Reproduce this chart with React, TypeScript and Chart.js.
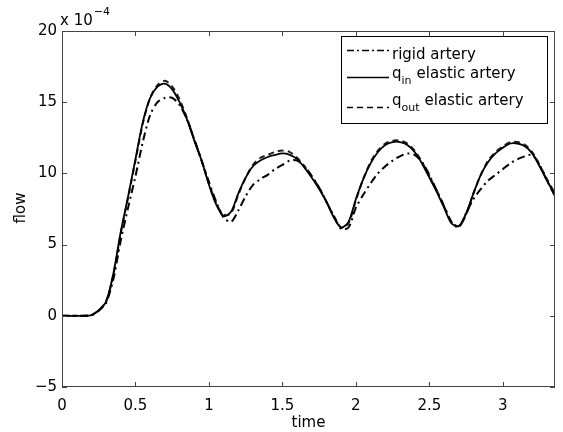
import React, { useEffect, useRef } from "react";
import { Chart, registerables } from "chart.js";

Chart.register(...registerables);

const TIME = [
  0, 0.05, 0.1, 0.15, 0.2, 0.25, 0.3, 0.35, 0.4, 0.45, 0.5, 0.55, 0.6, 0.65, 0.7, 0.75, 0.8, 0.85, 0.9, 0.95,
  1.0, 1.05, 1.1, 1.15, 1.2, 1.25, 1.3, 1.35, 1.4, 1.45, 1.5, 1.55, 1.6, 1.65, 1.7, 1.75, 1.8, 1.85, 1.9, 1.95,
  2.0, 2.05, 2.1, 2.15, 2.2, 2.25, 2.3, 2.35, 2.4, 2.45, 2.5, 2.55, 2.6, 2.65, 2.7, 2.75, 2.8, 2.85, 2.9, 2.95,
  3.0, 3.05, 3.1, 3.15, 3.2, 3.25, 3.3, 3.355,
];

const RIGID = [
  0, 0, 0, 0, 0.03, 0.35, 0.9, 2.6, 5.3, 7.6, 9.8, 12.2, 14.1, 15.0, 15.3, 15.3, 14.8, 13.8, 12.4, 10.9,
  9.4, 8.0, 6.9, 6.6, 7.4, 8.4, 9.2, 9.6, 9.9, 10.3, 10.6, 10.9, 10.9, 10.5, 9.8, 9.0, 8.0, 7.0, 6.1, 6.2,
  7.6, 8.5, 9.3, 10.0, 10.5, 10.9, 11.2, 11.4, 11.3, 10.8, 9.9, 8.8, 7.7, 6.6, 6.2, 7.2, 8.2, 8.9, 9.5, 9.9,
  10.3, 10.7, 11.0, 11.2, 11.3, 10.6, 9.5, 8.4,
];

const Q_IN = [
  0, 0, 0, 0, 0.05, 0.4, 1.0, 3.0, 5.9, 8.4, 11.0, 13.6, 15.3, 16.1, 16.3, 15.9, 15.0, 13.8, 12.3, 10.9,
  9.2, 7.8, 7.0, 7.3, 8.6, 9.7, 10.5, 10.9, 11.15, 11.3, 11.4, 11.3, 11.0, 10.4, 9.7, 8.9, 8.0, 6.9, 6.2, 6.6,
  8.2, 9.6, 10.7, 11.5, 12.0, 12.2, 12.2, 12.0, 11.5, 10.7, 9.7, 8.7, 7.6, 6.5, 6.3, 7.2, 8.6, 9.9, 10.8, 11.4,
  11.8, 12.1, 12.1, 11.9, 11.4, 10.5, 9.5, 8.5,
];

const Q_OUT = [
  0, 0, 0, 0, 0.04, 0.38, 1.0, 2.9, 5.8, 8.3, 10.9, 13.5, 15.3, 16.2, 16.5, 16.1, 15.2, 13.9, 12.4, 10.9,
  9.3, 7.9, 7.1, 7.2, 8.5, 9.7, 10.6, 11.1, 11.3, 11.5, 11.6, 11.5, 11.1, 10.5, 9.8, 9.0, 8.0, 7.0, 6.2, 6.5,
  8.1, 9.6, 10.8, 11.6, 12.1, 12.3, 12.3, 12.1, 11.6, 10.8, 9.8, 8.8, 7.7, 6.6, 6.3, 7.1, 8.6, 9.9, 10.9, 11.5,
  11.9, 12.2, 12.2, 12.0, 11.5, 10.6, 9.6, 8.6,
];

const X_TICKS = [0, 0.5, 1, 1.5, 2, 2.5, 3];
const Y_TICKS = [-5, 0, 5, 10, 15, 20];
const X_MIN = 0;
const X_MAX = 3.355;
const Y_MIN = -5;
const Y_MAX = 20;

const FONT = "'DejaVu Sans', 'Liberation Sans', Arial, sans-serif";

const pts = (ys: number[]) => TIME.map((t, i) => ({ x: t, y: ys[i] }));

const matlabPlugin = {
  id: "matlabDecor",
  afterDraw(chart: any) {
    const ctx = chart.ctx as CanvasRenderingContext2D;
    const { left, right, top, bottom } = chart.chartArea;
    const xs = chart.scales.x;
    const ys = chart.scales.y;
    ctx.save();
    // frame
    ctx.strokeStyle = "#444";
    ctx.lineWidth = 1;
    ctx.setLineDash([]);
    ctx.strokeRect(left + 0.5, top + 0.5, right - left - 1, bottom - top - 1);
    // ticks inward
    ctx.beginPath();
    const tl = 5;
    X_TICKS.forEach((v) => {
      const px = Math.round(xs.getPixelForValue(v)) + 0.5;
      ctx.moveTo(px, bottom);
      ctx.lineTo(px, bottom - tl);
      ctx.moveTo(px, top);
      ctx.lineTo(px, top + tl);
    });
    Y_TICKS.forEach((v) => {
      const py = Math.round(ys.getPixelForValue(v)) + 0.5;
      ctx.moveTo(left, py);
      ctx.lineTo(left + tl, py);
      ctx.moveTo(right, py);
      ctx.lineTo(right - tl, py);
    });
    ctx.stroke();

    // exponent label
    ctx.fillStyle = "#000";
    ctx.textBaseline = "alphabetic";
    ctx.textAlign = "left";
    ctx.font = `15px ${FONT}`;
    ctx.fillText("x 10", left - 2, 25);
    const w10 = ctx.measureText("x 10").width;
    ctx.font = `11px ${FONT}`;
    ctx.fillText("\u22124", left - 2 + w10 + 1, 15);

    // axis titles
    ctx.font = `15px ${FONT}`;
    ctx.textAlign = "center";
    ctx.textBaseline = "middle";
    ctx.fillText("time", (xs.getPixelForValue(X_MIN) + xs.getPixelForValue(X_MAX)) / 2, 423);
    ctx.save();
    ctx.translate(21, 208);
    ctx.rotate(-Math.PI / 2);
    ctx.fillText("flow", 0, 0);
    ctx.restore();

    // legend
    const lx = 341, ly = 36, lw = 206, lh = 87;
    ctx.fillStyle = "#fff";
    ctx.fillRect(lx, ly, lw, lh);
    ctx.strokeStyle = "#000";
    ctx.lineWidth = 1;
    ctx.strokeRect(lx + 0.5, ly + 0.5, lw, lh);
    const rows = [
      { base: 59, lineY: 50, dash: [7, 3, 2, 3], main: "rigid artery", sub: "" },
      { base: 78, lineY: 77, dash: [], main: "q", sub: "in" },
      { base: 105, lineY: 107, dash: [6, 4], main: "q", sub: "out" },
    ];
    rows.forEach((r) => {
      ctx.strokeStyle = "#000";
      ctx.lineWidth = 1.3;
      ctx.setLineDash(r.dash);
      ctx.beginPath();
      ctx.moveTo(347, r.lineY + 0.5);
      ctx.lineTo(389, r.lineY + 0.5);
      ctx.stroke();
      ctx.setLineDash([]);
      ctx.fillStyle = "#000";
      ctx.textAlign = "left";
      ctx.textBaseline = "alphabetic";
      ctx.font = `15px ${FONT}`;
      let x = 392;
      ctx.fillText(r.main, x, r.base);
      if (r.sub) {
        x += ctx.measureText(r.main).width;
        ctx.font = `11px ${FONT}`;
        ctx.fillText(r.sub, x, r.base + 6);
        x += ctx.measureText(r.sub).width + 5;
        ctx.font = `15px ${FONT}`;
        ctx.fillText("elastic artery", x, r.base);
      }
    });
    ctx.restore();
  },
};

export default function App() {
  const ref = useRef<HTMLCanvasElement | null>(null);
  useEffect(() => {
    if (!ref.current) return;
    const chart = new Chart(ref.current, {
      type: "line",
      data: {
        datasets: [
          {
            label: "rigid artery",
            data: pts(RIGID),
            borderColor: "#000",
            borderWidth: 2,
            borderDash: [8, 4, 2, 4],
            pointRadius: 0,
            tension: 0.3,
            fill: false,
          },
          {
            label: "q_in elastic artery",
            data: pts(Q_IN),
            borderColor: "#000",
            borderWidth: 1.8,
            pointRadius: 0,
            tension: 0.3,
            fill: false,
          },
          {
            label: "q_out elastic artery",
            data: pts(Q_OUT),
            borderColor: "#222",
            borderWidth: 2,
            borderDash: [6, 4],
            pointRadius: 0,
            tension: 0.3,
            fill: false,
          },
        ],
      },
      options: {
        responsive: false,
        animation: false,
        events: [],
        layout: { padding: { left: 0, top: 31, right: 8, bottom: 0 } },
        plugins: { legend: { display: false }, tooltip: { enabled: false } },
        scales: {
          x: {
            type: "linear",
            min: X_MIN,
            max: X_MAX,
            afterBuildTicks: (s: any) => {
              s.ticks = X_TICKS.map((v) => ({ value: v }));
            },
            afterFit: (s: any) => {
              s.height = 45;
            },
            grid: { display: false, drawTicks: false },
            border: { display: false },
            ticks: {
              color: "#000",
              font: { family: FONT, size: 15 },
              padding: 10,
              maxRotation: 0,
              autoSkip: false,
              callback: (v: any) => String(v),
            },
          },
          y: {
            type: "linear",
            min: Y_MIN,
            max: Y_MAX,
            afterBuildTicks: (s: any) => {
              s.ticks = Y_TICKS.map((v) => ({ value: v }));
            },
            afterFit: (s: any) => {
              s.width = 62;
            },
            grid: { display: false, drawTicks: false },
            border: { display: false },
            ticks: {
              color: "#000",
              font: { family: FONT, size: 15 },
              padding: 5,
              autoSkip: false,
              callback: (v: any) => (Number(v) < 0 ? "\u2212" + Math.abs(Number(v)) : String(v)),
            },
          },
        },
      },
      plugins: [matlabPlugin],
    });
    return () => chart.destroy();
  }, []);
  return (
    <div style={{ position: "fixed", left: 0, top: 0, width: 563, height: 432, background: "#fff" }}>
      <canvas ref={ref} width={563} height={432} style={{ display: "block" }} />
    </div>
  );
}
